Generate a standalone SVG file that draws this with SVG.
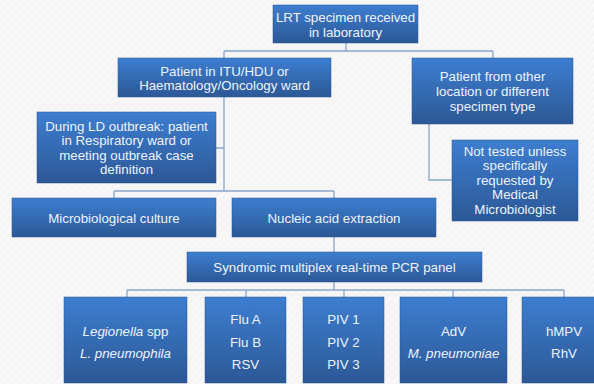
<svg xmlns="http://www.w3.org/2000/svg" width="594" height="384" viewBox="0 0 594 384">
<defs>
<linearGradient id="g" x1="0" y1="0" x2="0" y2="1">
<stop offset="0" stop-color="#3d7ed0"/>
<stop offset="1" stop-color="#2c5896"/>
</linearGradient>
<pattern id="bg" width="8" height="8" patternUnits="userSpaceOnUse">
<rect width="8" height="8" fill="#f7f7f7"/>
<path d="M0,4 L4,0 M4,8 L8,4" stroke="#efefef" stroke-width="1"/>
</pattern>
</defs>
<style>
.box{fill:url(#g);stroke:#2a5590;stroke-width:0.5}
.t{font-family:"Liberation Sans",Arial,sans-serif;font-size:13.3px;fill:#eef3fb;text-anchor:middle}
.i{font-style:italic}
.c{fill:none;stroke:#8aa6cc;stroke-width:1.3}
</style>
<rect width="594" height="384" fill="url(#bg)"/>
<g id="connectors">
<path class="c" d="M346,43 V51 M224,51 H493 M224,51 V58 M493,51 V58"/>
<path class="c" d="M224,97 V191 M216,148 H224 M114,191 H334 M114,191 V198 M334,191 V198"/>
<path class="c" d="M429,124 V180 H452"/>
<path class="c" d="M334,237 V252"/>
<path class="c" d="M334,282 V290 M127,290 H564 M127,290 V297 M246,290 V297 M344,290 V297 M453,290 V297 M564,290 V297"/>
</g>
<g id="n-lrt">
<rect class="box" x="273" y="5" width="145" height="38"/>
<text class="t" x="345.5" y="21.5">LRT specimen received</text>
<text class="t" x="345.5" y="36.5">in laboratory</text>
</g>
<g id="n-itu">
<rect class="box" x="118" y="58" width="213" height="39"/>
<text class="t" x="224.5" y="75.5">Patient in ITU/HDU or</text>
<text class="t" x="224.5" y="89.5">Haematology/Oncology ward</text>
</g>
<g id="n-other">
<rect class="box" x="412" y="58" width="161" height="66"/>
<text class="t" x="492.5" y="81">Patient from other</text>
<text class="t" x="492.5" y="96">location or different</text>
<text class="t" x="492.5" y="111">specimen type</text>
</g>
<g id="n-ld">
<rect class="box" x="37" y="112" width="179" height="71"/>
<text class="t" x="126.5" y="130.5">During LD outbreak: patient</text>
<text class="t" x="126.5" y="145">in Respiratory ward or</text>
<text class="t" x="126.5" y="159.5">meeting outbreak case</text>
<text class="t" x="126.5" y="174">definition</text>
</g>
<g id="n-nottested">
<rect class="box" x="452" y="140" width="126" height="81"/>
<text class="t" x="515" y="155.5">Not tested unless</text>
<text class="t" x="515" y="170">specifically</text>
<text class="t" x="515" y="184.5">requested by</text>
<text class="t" x="515" y="199">Medical</text>
<text class="t" x="515" y="213.5">Microbiologist</text>
</g>
<g id="n-culture">
<rect class="box" x="12" y="198" width="204" height="39"/>
<text class="t" x="114" y="222.5">Microbiological culture</text>
</g>
<g id="n-nucleic">
<rect class="box" x="232" y="198" width="204" height="39"/>
<text class="t" x="334" y="222.5">Nucleic acid extraction</text>
</g>
<g id="n-pcr">
<rect class="box" x="187" y="252" width="295" height="30"/>
<text class="t" x="334.5" y="271.5">Syndromic multiplex real-time PCR panel</text>
</g>
<g id="n-legionella">
<rect class="box" x="64" y="297" width="123" height="86"/>
<text class="t" x="125.5" y="335.5"><tspan class="i">Legionella</tspan> spp</text>
<text class="t i" x="125.5" y="357.5">L. pneumophila</text>
</g>
<g id="n-flu">
<rect class="box" x="205" y="297" width="81" height="86"/>
<text class="t" x="245.5" y="323.5">Flu A</text>
<text class="t" x="245.5" y="346.5">Flu B</text>
<text class="t" x="245.5" y="368.5">RSV</text>
</g>
<g id="n-piv">
<rect class="box" x="303" y="297" width="81" height="86"/>
<text class="t" x="343.5" y="323.5">PIV 1</text>
<text class="t" x="343.5" y="346.5">PIV 2</text>
<text class="t" x="343.5" y="368.5">PIV 3</text>
</g>
<g id="n-adv">
<rect class="box" x="400" y="297" width="107" height="86"/>
<text class="t" x="453.5" y="335.5">AdV</text>
<text class="t i" x="453.5" y="357.5">M. pneumoniae</text>
</g>
<g id="n-hmpv">
<rect class="box" x="522" y="297" width="84" height="86"/>
<text class="t" x="564" y="335.5">hMPV</text>
<text class="t" x="564" y="357.5">RhV</text>
</g>
</svg>
